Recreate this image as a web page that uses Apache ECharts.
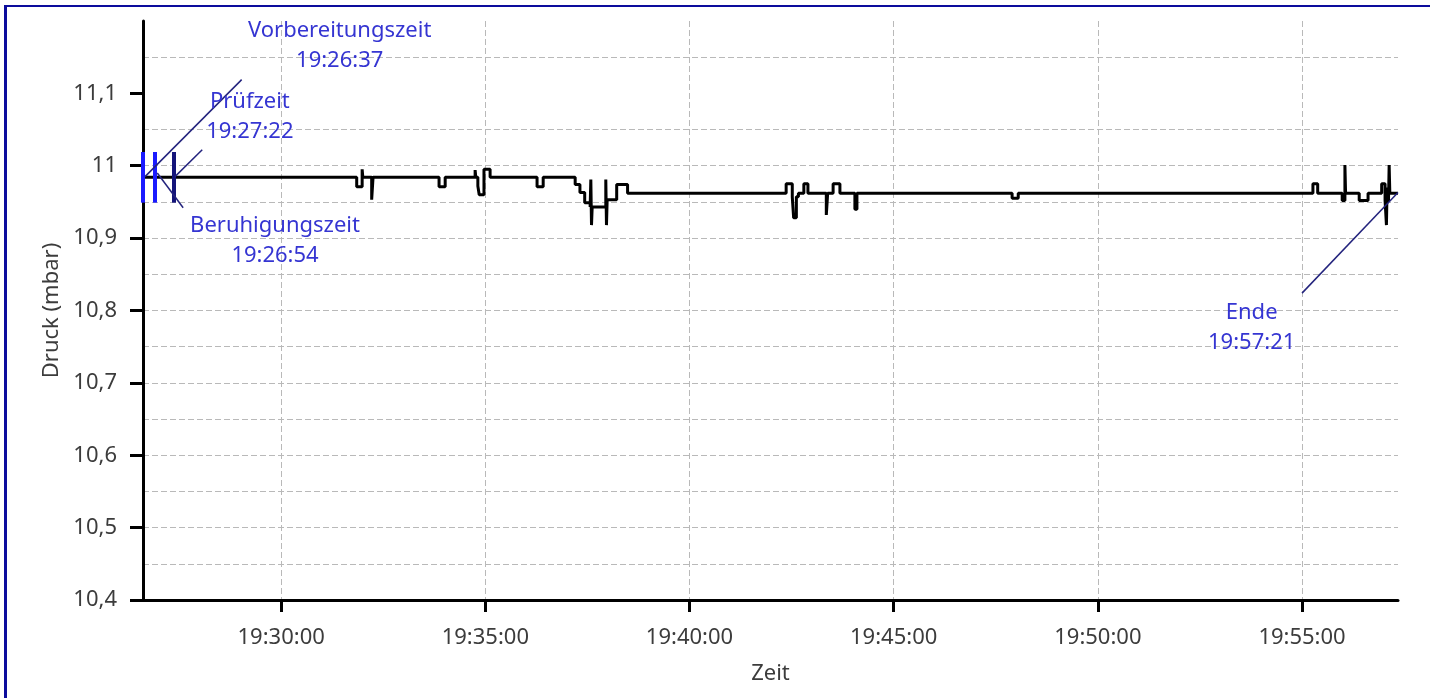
<!DOCTYPE html>
<html>
<head>
<meta charset="utf-8">
<script src="https://cdn.jsdelivr.net/npm/echarts@6/dist/echarts.min.js"></script>
<style>
  html, body { margin: 0; padding: 0; background: #fff; }
  #chart { width: 1430px; height: 698px; }
</style>
</head>
<body>
<div id="chart"></div>
<script>
// Messwerte (Zeit / Druck in mbar), als Stufenlinie gezeichnet
const times = [
  '19:26:37', '19:31:51', '19:31:59', '19:32:00', '19:32:13', '19:32:15',
  '19:33:52', '19:34:01', '19:34:45', '19:34:46', '19:34:49', '19:34:51',
  '19:34:58', '19:35:07', '19:36:16', '19:36:25', '19:37:12', '19:37:19',
  '19:37:26', '19:37:34', '19:37:35', '19:37:36', '19:37:37', '19:37:57',
  '19:37:58', '19:37:59', '19:38:13', '19:38:29', '19:42:22', '19:42:31',
  '19:42:33', '19:42:37', '19:42:40', '19:42:48', '19:42:54', '19:43:21',
  '19:43:23', '19:43:31', '19:43:41', '19:44:03', '19:44:06', '19:47:54',
  '19:48:03', '19:55:16', '19:55:23', '19:55:59', '19:56:03', '19:56:04',
  '19:56:24', '19:56:37', '19:56:57', '19:57:02', '19:57:04', '19:57:05',
  '19:57:07', '19:57:08', '19:57:09', '19:57:21'
]
const pressure = [
  10.984, 10.971, 10.995, 10.984, 10.953, 10.984,
  10.971, 10.984, 10.994, 10.984, 10.972, 10.960,
  10.995, 10.984, 10.971, 10.984, 10.974, 10.963,
  10.949, 10.943, 10.981, 10.918, 10.943, 10.981,
  10.918, 10.953, 10.974, 10.962, 10.975, 10.957,
  10.928, 10.957, 10.962, 10.975, 10.962, 10.932,
  10.962, 10.975, 10.962, 10.940, 10.962, 10.955,
  10.962, 10.975, 10.962, 10.952, 11.001, 10.962,
  10.952, 10.962, 10.975, 10.952, 10.918, 10.970,
  10.950, 11.001, 10.962, 10.962
]

const yTicks = [10.4, 10.5, 10.6, 10.7, 10.8, 10.9, 11, 11.1]
const xTicks = ['19:30:00', '19:35:00', '19:40:00', '19:45:00', '19:50:00', '19:55:00']
const xStart = '19:26:37'
const xEnd = '19:57:21'

// Phasen-Marker
const phaseNames = ['Vorbereitungszeit', 'Beruhigungszeit', 'Prüfzeit', 'Ende']
const phaseTimes = ['19:26:37', '19:26:54', '19:27:22', '19:57:21']

// Layout der Beschriftungen (Datenkoordinaten)
const labelAt = [['19:31:26', 11.166], ['19:29:51', 10.897], ['19:29:14', 11.068], ['19:53:46', 10.776]]
const leaderFrom = [['19:26:40', 10.985], ['19:26:58', 10.990], ['19:27:24', 10.985], ['19:57:21', 10.963]]
const leaderTo = [['19:29:02', 11.119], ['19:27:36', 10.942], ['19:28:04', 11.022], ['19:55:00', 10.824]]
const markerRange = [10.949, 11.019]

const ts = (hms) => {
  const [h, m, s] = hms.split(':').map(Number)
  return new Date(2024, 0, 1, h, m, s).getTime()
}

const font = '"Noto Sans", "Open Sans", sans-serif'
const textColor = '#3c3c3c'
const grid = '#b9b9b9'
const dashed = { color: grid, width: 1, type: [6, 3] }

const fmtY = (v) => String(+v.toFixed(2)).replace('.', ',')
const fmtX = (v) => echarts.time.format(v, '{HH}:{mm}:{ss}', false)

const markerLines = phaseTimes.slice(0, 3).map((t, i) => [
  { coord: [ts(t), markerRange[0]], lineStyle: { color: i === 2 ? '#14147a' : '#1a1aff', width: 4, type: 'solid' } },
  { coord: [ts(t), markerRange[1]] }
])
const leaderLines = leaderFrom.map((p, i) => [
  { coord: [ts(p[0]), p[1]], lineStyle: { color: '#23237d', width: 1.5, type: 'solid' } },
  { coord: [ts(leaderTo[i][0]), leaderTo[i][1]] }
])
const labels = phaseNames.map((n, i) => ({
  name: n + '\n' + phaseTimes[i],
  coord: [ts(labelAt[i][0]), labelAt[i][1]]
}))

const chart = echarts.init(document.getElementById('chart'))
chart.setOption({
  animation: false,
  backgroundColor: '#fff',
  grid: { left: 143, right: 32, top: 21, bottom: 98 },
  xAxis: {
    type: 'value',
    min: ts(xStart),
    max: ts(xEnd),
    name: 'Zeit',
    nameLocation: 'middle',
    nameGap: 63,
    nameTextStyle: { color: textColor, fontSize: 22, fontFamily: font },
    axisLine: { lineStyle: { color: '#000', width: 3 } },
    axisTick: { show: true, length: 12, lineStyle: { color: '#000', width: 3 }, customValues: xTicks.map(ts) },
    axisLabel: {
      color: textColor, fontSize: 22, fontFamily: font, margin: 27,
      customValues: xTicks.map(ts), formatter: fmtX
    },
    splitLine: { show: true, lineStyle: dashed }
  },
  yAxis: {
    type: 'value',
    min: 10.4,
    max: 11.2,
    interval: 0.1,
    name: 'Druck (mbar)',
    nameLocation: 'middle',
    nameGap: 80,
    nameTextStyle: { color: textColor, fontSize: 22, fontFamily: font },
    axisLine: { show: true, lineStyle: { color: '#000', width: 3 } },
    axisTick: { show: true, length: 13, lineStyle: { color: '#000', width: 3 }, customValues: yTicks },
    axisLabel: {
      color: textColor, fontSize: 22, fontFamily: font, margin: 26,
      customValues: yTicks, formatter: fmtY
    },
    splitLine: { show: true, showMinLine: false, showMaxLine: false, lineStyle: dashed },
    minorTick: { show: false, splitNumber: 2 },
    minorSplitLine: { show: true, lineStyle: dashed }
  },
  graphic: [
    { type: 'rect', shape: { x: 4, y: 5, width: 3, height: 693 }, style: { fill: '#0c0c9c' } },
    { type: 'rect', shape: { x: 4, y: 5, width: 1426, height: 2 }, style: { fill: '#0c0c9c' } }
  ],
  series: [
    {
      type: 'line',
      step: 'end',
      symbol: 'none',
      data: times.map((t, i) => [ts(t), pressure[i]]),
      lineStyle: { color: '#000', width: 3 },
      z: 3
    },
    {
      type: 'line',
      data: [],
      silent: true,
      z: 4,
      markLine: {
        silent: true,
        symbol: ['none', 'none'],
        label: { show: false },
        emphasis: { disabled: true },
        data: markerLines.concat(leaderLines)
      },
      markPoint: {
        silent: true,
        symbol: 'circle',
        symbolSize: 1,
        itemStyle: { color: 'rgba(0,0,0,0)' },
        label: {
          show: true, position: 'inside', formatter: '{b}',
          color: '#3535d2', fontSize: 22, lineHeight: 30, fontFamily: font, align: 'center'
        },
        data: labels
      }
    }
  ]
})
</script>
</body>
</html>
